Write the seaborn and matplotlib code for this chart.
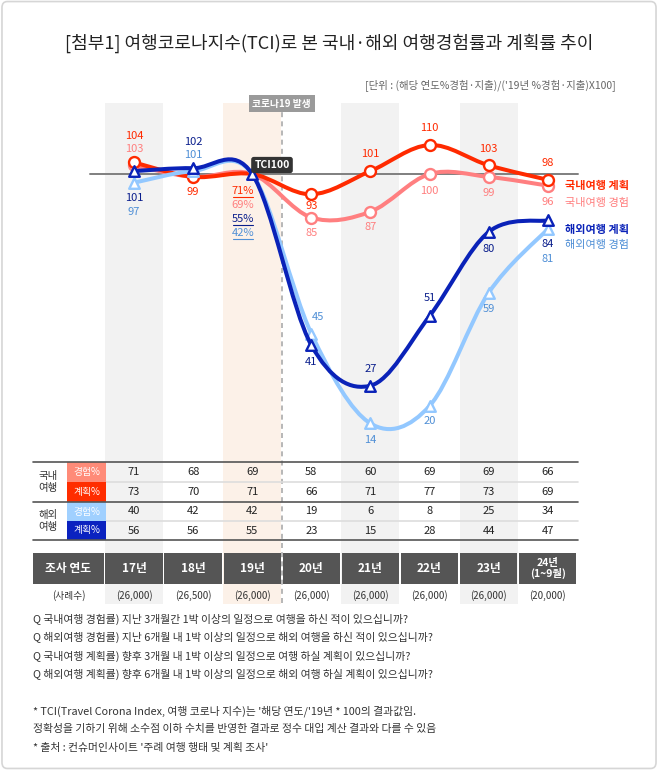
import numpy as np
import pandas as pd
import matplotlib
matplotlib.use("Agg")
import matplotlib.pyplot as plt
import matplotlib.transforms as mtransforms
from matplotlib.path import Path
from matplotlib.patches import PathPatch, Rectangle, FancyBboxPatch
import seaborn as sns

# ---------------- data ----------------
years = ["17년", "18년", "19년", "20년", "21년", "22년", "23년", "24년\n(1~9월)"]
sample_sizes = ["(26,000)", "(26,500)", "(26,000)", "(26,000)", "(26,000)",
                "(26,000)", "(26,000)", "(20,000)"]
tci_dom_plan = [104, 99, 100, 93, 101, 110, 103, 98]
tci_dom_exp = [103, 99, 100, 85, 87, 100, 99, 96]
tci_ovs_plan = [101, 102, 100, 41, 27, 51, 80, 84]
tci_ovs_exp = [97, 101, 100, 45, 14, 20, 59, 81]
pct_dom_exp = [71, 68, 69, 58, 60, 69, 69, 66]
pct_dom_plan = [73, 70, 71, 66, 71, 77, 73, 69]
pct_ovs_exp = [40, 42, 42, 19, 6, 8, 25, 34]
pct_ovs_plan = [56, 56, 55, 23, 15, 28, 44, 47]
series_names = ["국내여행 계획", "국내여행 경험", "해외여행 계획", "해외여행 경험"]
row_groups = ["국내\n여행", "해외\n여행"]
row_kinds = ["경험%", "계획%", "경험%", "계획%"]
title = "[첨부1] 여행코로나지수(TCI)로 본 국내·해외 여행경험률과 계획률 추이"
unit_text = "[단위 : (해당 연도%경험·지출)/('19년 %경험·지출)X100]"
questions = [
    "Q 국내여행 경험률) 지난 3개월간 1박 이상의 일정으로 여행을 하신 적이 있으십니까?",
    "Q 해외여행 경험률) 지난 6개월 내 1박 이상의 일정으로 해외 여행을 하신 적이 있으십니까?",
    "Q 국내여행 계획률) 향후 3개월 내 1박 이상의 일정으로 여행 하실 계획이 있으십니까?",
    "Q 해외여행 계획률) 향후 6개월 내 1박 이상의 일정으로 해외 여행 하실 계획이 있으십니까?",
]
notes = [
    "* TCI(Travel Corona Index, 여행 코로나 지수)는 '해당 연도/'19년 * 100의 결과값임.",
    "정확성을 기하기 위해 소수점 이하 수치를 반영한 결과로 정수 대입 계산 결과와 다를 수 있음",
    "* 출처 : 컨슈머인사이트 '주례 여행 행태 및 계획 조사'",
]

# ---------------- style ----------------
C_RED = "#FF2A00"
C_PINK = "#FF7F80"
C_DBLUE = "#0A22B8"
C_LBLUE = "#93C8FF"
C_PINK_T = "#FF7F7F"
C_LBLUE_T = "#4F8FD6"
C_DBLUE_T = "#0A1E8C"

sns.set_theme(style="white")
plt.rcParams["font.family"] = ["Noto Sans CJK KR", "DejaVu Sans"]

W, H = 658, 770
fig = plt.figure(figsize=(W / 100, H / 100), dpi=100)
X0, DX = 134.0, 59.1
Y100, DY = 174.0, 2.9
ax = fig.add_axes([0, 0, 1, 1])
ax.patch.set_alpha(0)

pix = mtransforms.Affine2D().scale(0.01, -0.01).translate(0, H / 100) + fig.dpi_scale_trans
xb = mtransforms.blended_transform_factory(ax.transData, pix)

n = len(years)
xs = np.arange(n)

# border
fig.patches.append(FancyBboxPatch((0.003, 0.002), 0.994, 0.996,
                                  boxstyle="round,pad=0,rounding_size=0.008",
                                  transform=fig.transFigure, fc="none", ec="#D6D6D6", lw=1.2))

# column bands
band_colors = {0: "#F2F2F2", 2: "#FCF1E8", 4: "#F2F2F2", 6: "#F2F2F2"}
for i, c in band_colors.items():
    ax.add_patch(Rectangle((i - 0.49, 103), 0.98, 501, transform=xb,
                           facecolor=c, edgecolor="none", zorder=0))

# covid dashed line
ax.plot([2.5, 2.5], [103, 604], transform=xb, color="#AAAAAA", lw=1.2,
        dashes=(3, 2.5), zorder=1)
ax.text(2.5, 103.5, "코로나19 발생", transform=xb, ha="center", va="center",
        fontsize=7, color="white", fontweight="bold", zorder=12,
        bbox=dict(boxstyle="square,pad=0.35", fc="#9A9A9A", ec="none"))

# TCI 100 baseline
ax.plot([-0.745, 7.51], [100, 100], color="#7F7F7F", lw=1.4, zorder=2)


def smooth_patch(vals, color, lw, z):
    y = np.asarray(vals, float)
    x = xs.astype(float)
    verts = [(x[0], y[0])]
    codes = [Path.MOVETO]
    for i in range(n - 1):
        pm = (x[i - 1], y[i - 1]) if i > 0 else (x[i], y[i])
        p2 = (x[i + 2], y[i + 2]) if i + 2 < n else (x[i + 1], y[i + 1])
        c1 = (x[i] + (x[i + 1] - pm[0]) / 6, y[i] + (y[i + 1] - pm[1]) / 6)
        c2 = (x[i + 1] - (p2[0] - x[i]) / 6, y[i + 1] - (p2[1] - y[i]) / 6)
        verts += [c1, c2, (x[i + 1], y[i + 1])]
        codes += [Path.CURVE4] * 3
    ax.add_patch(PathPatch(Path(verts, codes), fc="none", ec=color, lw=lw,
                           capstyle="round", joinstyle="round", zorder=z))


series = [
    (tci_dom_exp, C_PINK, "o", 3),
    (tci_dom_plan, C_RED, "o", 5),
    (tci_ovs_exp, C_LBLUE, "^", 7),
    (tci_ovs_plan, C_DBLUE, "^", 9),
]
show_mask = {
    C_PINK: [1, 0, 0, 1, 1, 1, 1, 1],
    C_RED: [1, 1, 0, 1, 1, 1, 1, 1],
    C_LBLUE: [1, 1, 0, 1, 1, 1, 1, 1],
    C_DBLUE: [1, 1, 1, 1, 1, 1, 1, 1],
}
for vals, col, mk, z in series:
    smooth_patch(vals, col, 2.9, z)
    m = np.array(show_mask[col], bool)
    df = pd.DataFrame({"x": xs[m], "y": np.asarray(vals)[m]})
    sns.scatterplot(data=df, x="x", y="y", marker=mk, s=62 if mk == "o" else 58,
                    color="white", edgecolor=col, linewidth=1.7, zorder=z + 1,
                    ax=ax, legend=False)
ax.set_xlim(-X0 / DX, (W - X0) / DX)
ax.set_ylim(100 - (H - Y100) / DY, 100 + Y100 / DY)
ax.axis("off")

# data labels: (series values, color, pixel offsets (dx, dy down))
label_offsets = [
    (tci_dom_plan, C_RED, [(0, -26), (0, 15), None, (0, 12), (0, -17), (0, -17), (0, -16), (0, -17)]),
    (tci_dom_exp, C_PINK_T, [(0, -16), None, None, (0, 16), (0, 15), (0, 17), (0, 16), (0, 16)]),
    (tci_ovs_plan, C_DBLUE_T, [(0, 27), (0, -26), None, (0, 17), (0, -17), (0, -18), (0, 17), (0, 24)]),
    (tci_ovs_exp, C_LBLUE_T, [(0, 29), (0, -16), None, (7, -17), (0, 17), (0, 15), (0, 16), (0, 30)]),
]
for vals, col, offs in label_offsets:
    for i, o in enumerate(offs):
        if o is None:
            continue
        ax.annotate(str(vals[i]), (i, vals[i]), xytext=(o[0], -o[1]),
                    textcoords="offset pixels", ha="center", va="center",
                    fontsize=8, color=col, zorder=15)

# 19년 base-year percentages
base_labels = [(pct_dom_plan[2], C_RED, 191), (pct_dom_exp[2], C_PINK_T, 205),
               (pct_ovs_plan[2], C_DBLUE_T, 219), (pct_ovs_exp[2], C_LBLUE_T, 233)]
for k, (v, col, yy) in enumerate(base_labels):
    ax.text(243, yy, f"{v}%", transform=pix, ha="center", va="center",
            fontsize=8, color=col, zorder=15)
    if k != 1:
        ax.plot([233, 253], [yy + 6, yy + 6], transform=pix, color=col, lw=0.8, zorder=15)

# TCI100 tag
ax.text(272, 165, "TCI100", transform=pix, ha="center", va="center", fontsize=7.5,
        color="white", fontweight="bold", zorder=16,
        bbox=dict(boxstyle="round,pad=0.3,rounding_size=0.25", fc="#333333", ec="none"))

# legend labels
leg = [(series_names[0], C_RED, 186, "bold"), (series_names[1], C_PINK_T, 203, "normal"),
       (series_names[2], C_DBLUE, 229, "bold"), (series_names[3], C_LBLUE_T, 245, "normal")]
for t, col, yy, fw in leg:
    ax.text(565, yy, t, transform=pix, ha="left", va="center", fontsize=8,
            color=col, fontweight=fw, zorder=15)

# title & unit
ax.text(329, 43, title, transform=pix, ha="center", va="center", fontsize=13,
        color="#222222")
ax.text(616, 85, unit_text, transform=pix, ha="right", va="center", fontsize=7.5,
        color="#666666")

# ---------------- table ----------------
row_vals = [pct_dom_exp, pct_dom_plan, pct_ovs_exp, pct_ovs_plan]
row_top = [462, 482, 502, 521]
row_bot = [482, 502, 521, 540]
row_box_colors = ["#FF8B78", "#FF2D00", "#A0D0FF", "#0A22C0"]
for r in range(4):
    yc = (row_top[r] + row_bot[r]) / 2
    ax.add_patch(Rectangle((67, row_top[r]), 39, row_bot[r] - row_top[r], transform=pix,
                           fc=row_box_colors[r], ec="none", zorder=3))
    ax.text(86.5, yc, row_kinds[r], transform=pix, ha="center", va="center",
            fontsize=7, color="white", zorder=4)
    for i in range(n):
        ax.text(i, yc, str(row_vals[r][i]), transform=xb, ha="center", va="center",
                fontsize=8, color="#222222", zorder=4)
for g, yy in zip(row_groups, [482, 521]):
    ax.text(48, yy, g, transform=pix, ha="center", va="center", fontsize=7.5,
            color="#333333", linespacing=1.25, zorder=4)
for yy in [462, 502, 540]:
    ax.plot([33, 578], [yy, yy], transform=pix, color="#555555", lw=1.2, zorder=5)
for yy in [482, 521]:
    ax.plot([106, 578], [yy, yy], transform=pix, color="#DDDDDD", lw=1.2, zorder=2)

# header row
ax.add_patch(Rectangle((33, 553), 71, 31, transform=pix, fc="#555555", ec="none", zorder=6))
ax.text(68.5, 568.5, "조사 연도", transform=pix, ha="center", va="center", fontsize=8.5,
        color="white", fontweight="bold", zorder=7)
for i in range(n):
    ax.add_patch(Rectangle((i - 0.485, 553), 0.97, 31, transform=xb, fc="#555555",
                           ec="none", zorder=6))
    two = "\n" in years[i]
    ax.text(i, 568.5, years[i], transform=xb, ha="center", va="center",
            fontsize=7.5 if two else 8.5, color="white", fontweight="bold",
            linespacing=1.0, zorder=7)
    ax.text(i, 596, sample_sizes[i], transform=xb, ha="center", va="center",
            fontsize=7, color="#333333", zorder=7)
ax.text(69, 596, "(사례수)", transform=pix, ha="center", va="center", fontsize=7,
        color="#333333", zorder=7)

# questions & notes
for k, q in enumerate(questions):
    ax.text(33, [619, 637, 656, 674][k], q, transform=pix, ha="left", va="center",
            fontsize=7.8, color="#333333")
for k, t in enumerate(notes):
    ax.text(33, [711, 729, 748][k], t, transform=pix, ha="left", va="center",
            fontsize=7.8, color="#333333")

fig.savefig("out.png", dpi=100)
